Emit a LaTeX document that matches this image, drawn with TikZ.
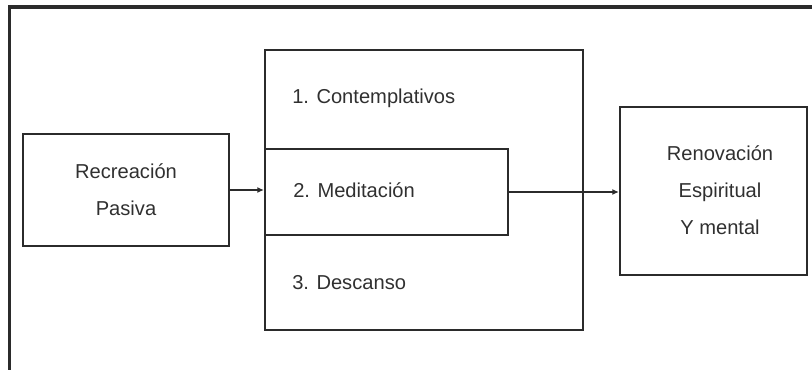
\documentclass[tikz,border=0pt]{standalone}
\usepackage{fontspec}
\setmainfont{Liberation Sans}
\usetikzlibrary{arrows.meta}
\definecolor{linea}{HTML}{2B2B2B}
\definecolor{texto}{HTML}{303030}
\tikzset{
  caja/.style={draw=linea, line width=1.6pt, inner sep=0pt},
  etiqueta/.style={text=texto, font=\fontsize{15.1}{27.75}\selectfont, align=center, inner sep=0pt},
  flecha/.style={draw=linea, line width=1.3pt, -{Latex[length=5pt,width=4.5pt]}}
}

\begin{document}
\begin{tikzpicture}[x=0.75pt, y=-0.75pt]
    \useasboundingbox (0,0) rectangle (812,370); % tamaño de la figura
    \draw[linea, line width=2.6pt] (9.5,370) -- (9.5,7) -- (812,7); % marco exterior
    \node (pasiva) at (126,190) [caja, minimum width=154.5pt, minimum height=84pt] {}; % caja izquierda
    \node at (pasiva) [etiqueta] {Recreación\\Pasiva};
    \node (tipos) at (424,190) [caja, minimum width=238.5pt, minimum height=210pt] {}; % caja central
    \node (medita) at (386.5,192) [caja, minimum width=182.25pt, minimum height=64.5pt] {}; % caja interior
    \node (renova) at (713.5,191) [caja, minimum width=140.25pt, minimum height=126pt] {}; % caja derecha
    \node at (720,190) [etiqueta] {Renovación\\Espiritual\\Y mental};
    \node (uno) at (292,98) [etiqueta, anchor=west] {1. Contemplativos}; % tipo 1
    \node (dos) at (293,190) [etiqueta, anchor=west] {2. Meditación}; % tipo 2
    \node (tres) at (292,283) [etiqueta, anchor=west] {3. Descanso}; % tipo 3
    \draw[flecha] (pasiva.east) -- (tipos.west); % flecha de entrada
    \draw[flecha] (medita.east) -- (medita.east -| renova.west); % flecha de salida
\end{tikzpicture}
\end{document}
